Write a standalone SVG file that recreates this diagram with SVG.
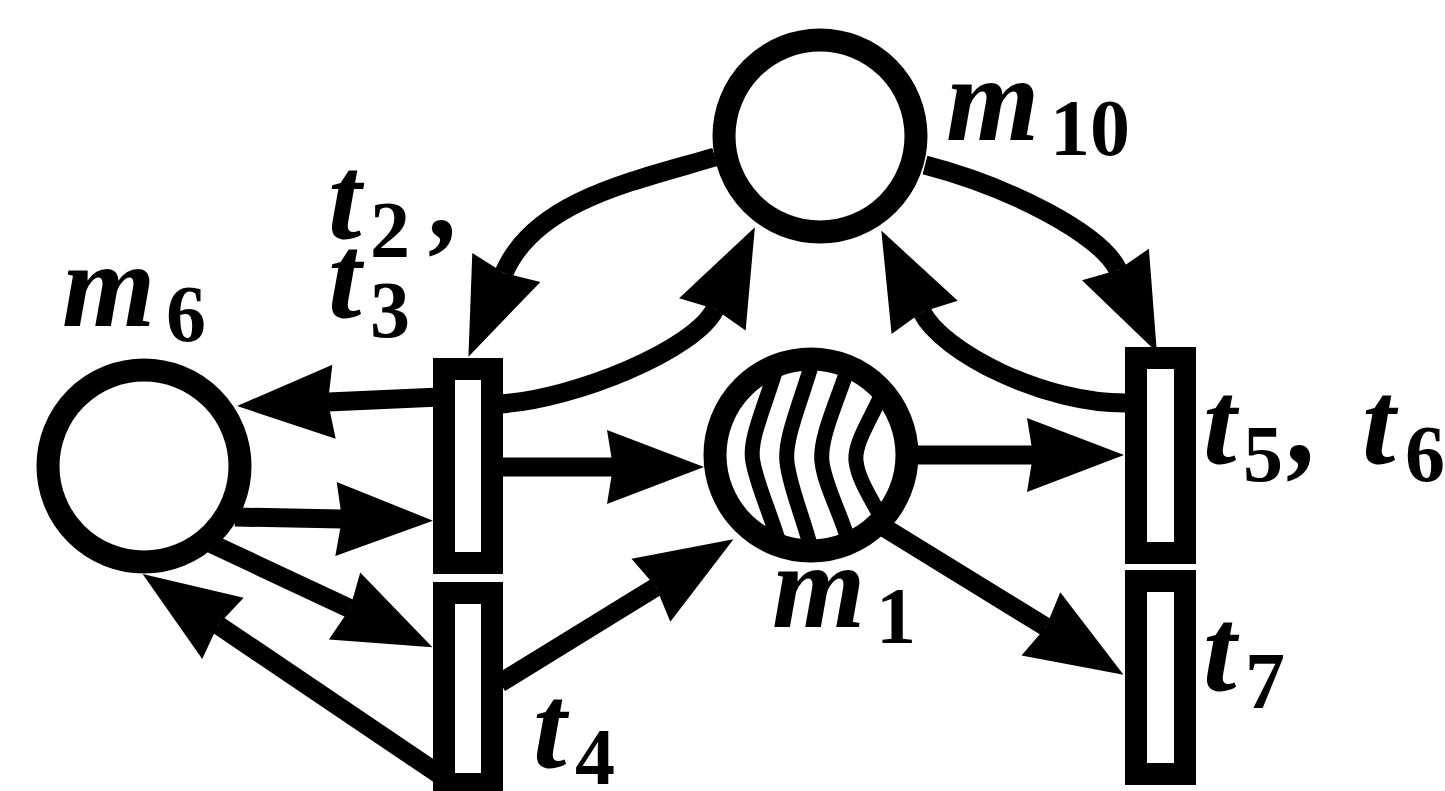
<svg xmlns="http://www.w3.org/2000/svg" width="1445" height="791" viewBox="0 0 1445 791">
<style>
.place{fill:#fff;stroke:#000;stroke-width:23}
.trans{fill:#fff;stroke:#000;stroke-width:22}
.arc{fill:none;stroke:#000;stroke-width:19;marker-end:url(#ah)}
.hatch{fill:none;stroke:#000;stroke-width:15}
.lbl{font-family:"Liberation Serif",serif;font-style:italic;font-weight:bold;font-size:120px;fill:#000}
.sub{font-family:"Liberation Serif",serif;font-weight:bold;font-size:80px;fill:#000}
</style>
<defs>
<marker id="ah" markerUnits="userSpaceOnUse" viewBox="0 -38 100 76" refX="6" refY="0" markerWidth="100" markerHeight="76" orient="auto" overflow="visible">
<path d="M0,-37 L97,0 L0,37 L6,0 Z" fill="#000"/>
</marker>
<clipPath id="m1clip"><circle cx="811" cy="455" r="90"/></clipPath>
</defs>
<rect width="1445" height="791" fill="#fff"/>
<g id="connectors">
<path class="arc" d="M715,157 C638,180 535,200 504,273"/>
<path class="arc" d="M500,404 C575,399 695,350 715,309"/>
<path class="arc" d="M925,165 C1010,187 1101,234 1118,270"/>
<path class="arc" d="M1130,403 C1045,405 942,352 922,312"/>
<path class="arc" d="M440,397 L328,402"/>
<path class="arc" d="M235,517 L342,519"/>
<path class="arc" d="M212,544 L350,608.6"/>
<path class="arc" d="M440,775 L218,625"/>
<path class="arc" d="M500,467 L613,467"/>
<path class="arc" d="M500,683 L656,587"/>
<path class="arc" d="M905,455 L1033,455"/>
<path class="arc" d="M885,528 L1046,627"/>
</g>
<g id="m10">
<circle class="place" cx="820" cy="136" r="96"/>
<text class="lbl" x="946" y="140">m</text>
<text class="sub" x="1050" y="155">10</text>
</g>
<g id="m6">
<circle class="place" cx="144" cy="466" r="96"/>
<text class="lbl" x="62" y="326">m</text>
<text class="sub" x="166" y="341">6</text>
</g>
<g id="m1">
<circle class="place" cx="811" cy="455" r="96"/>
<g clip-path="url(#m1clip)">
<path class="hatch" d="M778,362 C766,405 748,440 753,462 C758,490 774,520 784,560"/>
<path class="hatch" d="M814,356 C802,400 784,438 787,462 C790,490 805,520 814,560"/>
<path class="hatch" d="M850,362 C838,400 819,438 822,462 C825,487 842,515 852,552"/>
<path class="hatch" d="M886,385 C872,418 854,442 856,461 C858,480 872,500 886,526"/>
</g>
<text class="lbl" x="772" y="627">m</text>
<text class="sub" x="876" y="643">1</text>
</g>
<g id="t2t3">
<rect class="trans" x="444" y="369" width="48" height="194"/>
<text class="lbl" x="328" y="238">t</text>
<text class="sub" x="370" y="257">2</text>
<text class="lbl" x="432" y="238">,</text>
<text class="lbl" x="328" y="317">t</text>
<text class="sub" x="370" y="337">3</text>
</g>
<g id="t4">
<rect class="trans" x="444" y="593" width="48" height="191"/>
<text class="lbl" x="533" y="767">t</text>
<text class="sub" x="575" y="784">4</text>
</g>
<g id="t5t6">
<rect class="trans" x="1136" y="358" width="49" height="195"/>
<text class="lbl" x="1203" y="463">t</text>
<text class="sub" x="1243" y="481">5</text>
<text class="lbl" x="1290" y="463">,</text>
<text class="lbl" x="1362" y="463">t</text>
<text class="sub" x="1405" y="481">6</text>
</g>
<g id="t7">
<rect class="trans" x="1136" y="581" width="49" height="193"/>
<text class="lbl" x="1203" y="690">t</text>
<text class="sub" x="1245" y="708">7</text>
</g>
</svg>
